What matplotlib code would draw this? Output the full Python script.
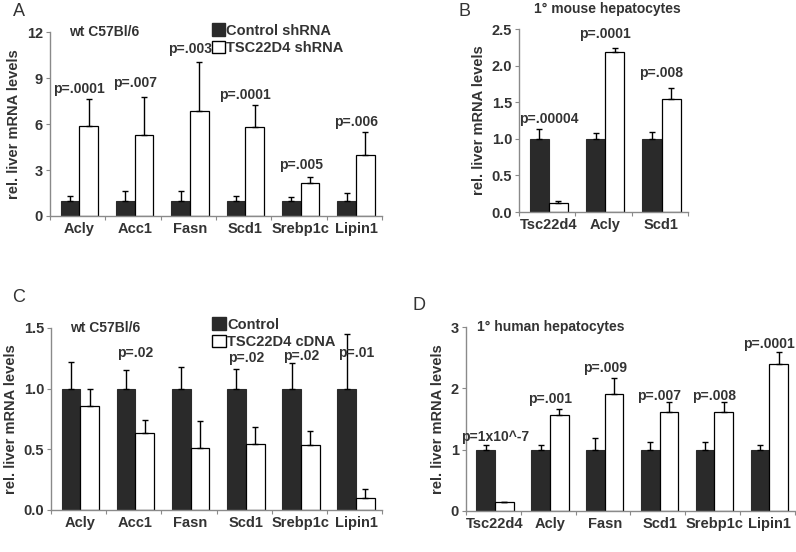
import numpy as np
import matplotlib
matplotlib.use("Agg")
import matplotlib.pyplot as plt
from matplotlib.patches import Patch

plt.rcParams['font.family'] = ['Liberation Sans', 'DejaVu Sans']
plt.rcParams['font.weight'] = 'bold'

txt = '#333333'
dark = '#2a2a2a'
spine = '#8a8a8a'

# Panel A: wt C57Bl/6, shRNA
genes_a = ['Acly', 'Acc1', 'Fasn', 'Scd1', 'Srebp1c', 'Lipin1']
ctrl_a = [1.0, 1.0, 1.0, 1.0, 1.0, 1.0]
ctrl_err_a = [0.3, 0.6, 0.6, 0.3, 0.25, 0.5]
kd_a = [5.9, 5.3, 6.85, 5.8, 2.15, 3.95]
kd_err_a = [1.7, 2.45, 3.2, 1.45, 0.42, 1.5]
p_a = ['p=.0001', 'p=.007', 'p=.003', 'p=.0001', 'p=.005', 'p=.006']
py_a = [8.3, 8.7, 10.9, 7.9, 3.3, 6.1]

# Panel B: primary mouse hepatocytes
genes_b = ['Tsc22d4', 'Acly', 'Scd1']
ctrl_b = [1.0, 1.0, 1.0]
ctrl_err_b = [0.13, 0.08, 0.1]
kd_b = [0.13, 2.18, 1.54]
kd_err_b = [0.02, 0.06, 0.15]
p_b = ['p=.00004', 'p=.0001', 'p=.008']
py_b = [1.27, 2.43, 1.9]

# Panel C: wt C57Bl/6, cDNA
genes_c = ['Acly', 'Acc1', 'Fasn', 'Scd1', 'Srebp1c', 'Lipin1']
ctrl_c = [1.0, 1.0, 1.0, 1.0, 1.0, 1.0]
ctrl_err_c = [0.22, 0.15, 0.18, 0.16, 0.21, 0.45]
oe_c = [0.86, 0.635, 0.515, 0.545, 0.535, 0.095]
oe_err_c = [0.14, 0.11, 0.215, 0.135, 0.115, 0.08]
p_c = ['', 'p=.02', '', 'p=.02', 'p=.02', 'p=.01']
py_c = [0, 1.29, 0, 1.25, 1.27, 1.29]

# Panel D: primary human hepatocytes
genes_d = ['Tsc22d4', 'Acly', 'Fasn', 'Scd1', 'Srebp1c', 'Lipin1']
ctrl_d = [1.0, 1.0, 1.0, 1.0, 1.0, 1.0]
ctrl_err_d = [0.08, 0.07, 0.19, 0.13, 0.13, 0.08]
kd_d = [0.14, 1.57, 1.91, 1.62, 1.62, 2.4]
kd_err_d = [0.01, 0.1, 0.26, 0.16, 0.16, 0.2]
p_d = ['p=1x10^-7', 'p=.001', 'p=.009', 'p=.007', 'p=.008', 'p=.0001']
py_d = [1.2, 1.83, 2.33, 1.88, 1.88, 2.73]


def panel(ax, genes, ctrl, ctrl_err, trt, trt_err, plabels, py, ymax, yticks, ylabels):
    n = len(genes)
    x = np.arange(n) + 0.53
    w = 0.34
    ekw = dict(ecolor='black', elinewidth=1.0, capsize=2.5, capthick=1.0)
    ax.bar(x - w / 2, ctrl, w, color=dark, edgecolor=dark, linewidth=0.8,
           yerr=[np.zeros(n), ctrl_err], error_kw=ekw, zorder=2)
    ax.bar(x + w / 2, trt, w, color='white', edgecolor='black', linewidth=0.9,
           yerr=[np.zeros(n), trt_err], error_kw=ekw, zorder=2)
    for xi, lab, yy in zip(x, plabels, py):
        if lab:
            ax.text(xi, yy, lab, ha='center', va='center', fontsize=10,
                    color=txt, fontweight='bold')
    ax.set_xlim(0, n)
    ax.set_ylim(0, ymax)
    ax.set_yticks(yticks)
    ax.set_yticklabels(ylabels, fontsize=10.5, color=txt, fontweight='bold')
    ax.set_xticks(np.arange(n + 1))
    ax.set_xticklabels([])
    ax.set_xticks(x, minor=True)
    ax.set_xticklabels(genes, minor=True, fontsize=10.5, color=txt, fontweight='bold')
    ax.tick_params(axis='x', which='minor', length=0, pad=4)
    ax.tick_params(axis='x', which='major', length=3, color=spine, direction='out')
    ax.tick_params(axis='y', length=3, color=spine, direction='out', pad=2)
    for s in ['top', 'right']:
        ax.spines[s].set_visible(False)
    for s in ['left', 'bottom']:
        ax.spines[s].set_color(spine)
        ax.spines[s].set_linewidth(1.0)
    ax.set_ylabel('rel. liver mRNA levels', fontsize=10.5, color=txt, fontweight='bold', labelpad=4)


fig = plt.figure(figsize=(7.96, 5.52), dpi=100)

axA = fig.add_axes([0.0628, 0.6087, 0.4171, 0.3333])
panel(axA, genes_a, ctrl_a, ctrl_err_a, kd_a, kd_err_a, p_a, py_a, 12,
      [0, 3, 6, 9, 12], ['0', '3', '6', '9', '12'])
axA.text(0.058, 1.0, 'wt C57Bl/6', transform=axA.transAxes, fontsize=10, color=txt,
         fontweight='bold', va='center', ha='left')

axB = fig.add_axes([0.652, 0.6159, 0.2123, 0.3315])
panel(axB, genes_b, ctrl_b, ctrl_err_b, kd_b, kd_err_b, p_b, py_b, 2.5,
      [0, 0.5, 1.0, 1.5, 2.0, 2.5], ['0.0', '0.5', '1.0', '1.5', '2.0', '2.5'])

axC = fig.add_axes([0.0641, 0.0761, 0.4158, 0.3297])
panel(axC, genes_c, ctrl_c, ctrl_err_c, oe_c, oe_err_c, p_c, py_c, 1.5,
      [0, 0.5, 1.0, 1.5], ['0.0', '0.5', '1.0', '1.5'])
axC.text(0.058, 1.0, 'wt C57Bl/6', transform=axC.transAxes, fontsize=10, color=txt,
         fontweight='bold', va='center', ha='left')

axD = fig.add_axes([0.5854, 0.0743, 0.4133, 0.3333])
panel(axD, genes_d, ctrl_d, ctrl_err_d, kd_d, kd_err_d, p_d, py_d, 3,
      [0, 1, 2, 3], ['0', '1', '2', '3'])
axD.text(0.035, 1.0, '1° human hepatocytes', transform=axD.transAxes, fontsize=10,
         color=txt, fontweight='bold', va='center', ha='left')

fig.text(607 / 796, 1 - 9 / 552, '1° mouse hepatocytes', fontsize=10, color=txt,
         fontweight='bold', ha='center', va='center')

# legends
leg_a = [Patch(facecolor=dark, edgecolor=dark, label='Control shRNA'),
         Patch(facecolor='white', edgecolor='black', label='TSC22D4 shRNA')]
axA.legend(handles=leg_a, loc='upper left', bbox_to_anchor=(0.47, 1.078), frameon=False,
           handlelength=0.9, handleheight=0.9, handletextpad=0.1, labelspacing=0.25,
           borderaxespad=0, prop={'size': 10.5, 'weight': 'bold'}, labelcolor=txt)
leg_c = [Patch(facecolor=dark, edgecolor=dark, label='Control'),
         Patch(facecolor='white', edgecolor='black', label='TSC22D4 cDNA')]
axC.legend(handles=leg_c, loc='upper left', bbox_to_anchor=(0.47, 1.09), frameon=False,
           handlelength=0.9, handleheight=0.9, handletextpad=0.1, labelspacing=0.25,
           borderaxespad=0, prop={'size': 10.5, 'weight': 'bold'}, labelcolor=txt)

# panel letters
for lab, xp, yp in [('A', 13, 12), ('B', 458, 12), ('C', 12, 297), ('D', 413, 306)]:
    fig.text(xp / 796, 1 - yp / 552, lab, fontsize=13, color=txt, fontweight='normal',
             ha='left', va='center')

fig.savefig('out.png', dpi=100)
